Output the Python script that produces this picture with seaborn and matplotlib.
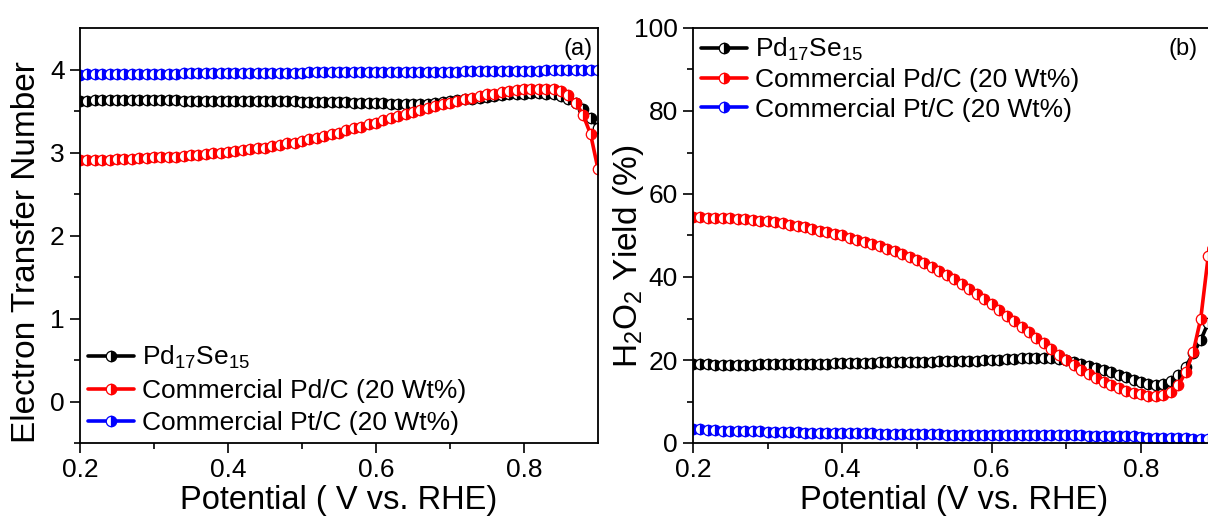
import numpy as np
import matplotlib
matplotlib.use('Agg')
import matplotlib.pyplot as plt
import seaborn as sns

# Potential grid (V vs. RHE)
potential = [0.20, 0.21, 0.22, 0.23, 0.24, 0.25, 0.26, 0.27, 0.28, 0.29,
             0.30, 0.31, 0.32, 0.33, 0.34, 0.35, 0.36, 0.37, 0.38, 0.39,
             0.40, 0.41, 0.42, 0.43, 0.44, 0.45, 0.46, 0.47, 0.48, 0.49,
             0.50, 0.51, 0.52, 0.53, 0.54, 0.55, 0.56, 0.57, 0.58, 0.59,
             0.60, 0.61, 0.62, 0.63, 0.64, 0.65, 0.66, 0.67, 0.68, 0.69,
             0.70, 0.71, 0.72, 0.73, 0.74, 0.75, 0.76, 0.77, 0.78, 0.79,
             0.80, 0.81, 0.82, 0.83, 0.84, 0.85, 0.86, 0.87, 0.88, 0.89,
             0.90]

# (a) electron transfer number
n_pdse = [3.62, 3.62, 3.63, 3.63, 3.63, 3.63, 3.63, 3.63, 3.63, 3.63,
          3.63, 3.63, 3.63, 3.63, 3.62, 3.62, 3.62, 3.62, 3.62, 3.62,
          3.62, 3.62, 3.62, 3.62, 3.62, 3.62, 3.62, 3.62, 3.62, 3.62,
          3.61, 3.61, 3.61, 3.61, 3.61, 3.61, 3.61, 3.60, 3.60, 3.60,
          3.60, 3.60, 3.59, 3.59, 3.59, 3.59, 3.59, 3.59, 3.60, 3.61,
          3.62, 3.63, 3.64, 3.65, 3.66, 3.67, 3.68, 3.69, 3.70, 3.71,
          3.71, 3.72, 3.72, 3.71, 3.70, 3.68, 3.65, 3.60, 3.52, 3.42,
          3.30]
n_pdc = [2.91, 2.91, 2.91, 2.91, 2.91, 2.92, 2.92, 2.92, 2.93, 2.93,
         2.94, 2.94, 2.95, 2.95, 2.96, 2.97, 2.97, 2.98, 2.99, 3.00,
         3.01, 3.02, 3.03, 3.04, 3.05, 3.06, 3.08, 3.09, 3.11, 3.12,
         3.14, 3.16, 3.18, 3.20, 3.22, 3.24, 3.27, 3.29, 3.31, 3.34,
         3.36, 3.39, 3.41, 3.44, 3.46, 3.49, 3.51, 3.54, 3.56, 3.58,
         3.60, 3.62, 3.64, 3.66, 3.68, 3.70, 3.71, 3.73, 3.74, 3.75,
         3.76, 3.77, 3.77, 3.77, 3.76, 3.74, 3.69, 3.60, 3.45, 3.22,
         2.80]
n_ptc = [3.93, 3.94, 3.94, 3.94, 3.94, 3.95, 3.95, 3.95, 3.95, 3.95,
         3.95, 3.95, 3.95, 3.95, 3.96, 3.96, 3.96, 3.96, 3.96, 3.96,
         3.96, 3.96, 3.96, 3.96, 3.96, 3.96, 3.96, 3.96, 3.96, 3.96,
         3.96, 3.97, 3.97, 3.97, 3.97, 3.97, 3.97, 3.97, 3.97, 3.97,
         3.97, 3.97, 3.97, 3.97, 3.97, 3.97, 3.97, 3.97, 3.97, 3.97,
         3.97, 3.97, 3.98, 3.98, 3.98, 3.98, 3.98, 3.98, 3.98, 3.98,
         3.98, 3.98, 3.98, 3.99, 3.99, 3.99, 3.99, 3.99, 3.99, 3.99,
         3.99]

# (b) H2O2 yield (%)
y_pdse = [19.0, 19.0, 19.0, 18.9, 18.9, 18.9, 18.9, 18.9, 18.9, 19.0,
          19.0, 19.0, 19.0, 19.0, 19.0, 19.0, 19.1, 19.1, 19.1, 19.2,
          19.2, 19.2, 19.3, 19.3, 19.3, 19.4, 19.4, 19.4, 19.5, 19.5,
          19.6, 19.6, 19.6, 19.7, 19.7, 19.7, 19.8, 19.8, 19.8, 19.9,
          20.0, 20.1, 20.2, 20.3, 20.4, 20.5, 20.6, 20.6, 20.5, 20.3,
          20.0, 19.5, 19.0, 18.5, 18.0, 17.5, 17.0, 16.4, 15.8, 15.2,
          14.6, 14.2, 14.0, 14.2, 15.0, 16.4, 18.4, 21.6, 24.8, 29.0,
          35.0]
y_pdc = [54.4, 54.4, 54.3, 54.3, 54.2, 54.1, 54.0, 53.9, 53.8, 53.6,
         53.4, 53.2, 52.9, 52.6, 52.3, 52.0, 51.6, 51.2, 50.8, 50.4,
         50.0, 49.5, 49.0, 48.5, 48.0, 47.4, 46.8, 46.2, 45.6, 44.9,
         44.2, 43.4, 42.5, 41.5, 40.5, 39.4, 38.3, 37.1, 35.9, 34.7,
         33.4, 32.1, 30.7, 29.4, 28.0, 26.7, 25.3, 24.0, 22.6, 21.3,
         20.0, 18.8, 17.6, 16.6, 15.6, 14.7, 13.9, 13.2, 12.6, 12.1,
         11.7, 11.4, 11.3, 11.5, 12.2, 14.0, 17.0, 22.0, 30.0, 45.0,
         65.0]
y_ptc = [3.4, 3.3, 3.2, 3.1, 3.0, 3.0, 2.9, 2.9, 2.8, 2.8,
         2.7, 2.7, 2.6, 2.6, 2.6, 2.5, 2.5, 2.5, 2.4, 2.4,
         2.4, 2.3, 2.3, 2.3, 2.3, 2.2, 2.2, 2.2, 2.2, 2.1,
         2.1, 2.1, 2.1, 2.1, 2.0, 2.0, 2.0, 2.0, 2.0, 2.0,
         2.0, 2.0, 1.9, 1.9, 1.9, 1.9, 1.9, 1.9, 1.9, 1.9,
         1.9, 1.9, 1.9, 1.8, 1.8, 1.8, 1.8, 1.8, 1.8, 1.6,
         1.4, 1.3, 1.2, 1.2, 1.1, 1.1, 1.1, 1.0, 1.0, 1.0,
         1.0]

labels = ['Pd$_{17}$Se$_{15}$', 'Commercial Pd/C (20 Wt%)', 'Commercial Pt/C (20 Wt%)']
colors = ['black', '#ff0000', '#0000ff']

sns.set_style('ticks')
plt.rcParams['font.family'] = ['Liberation Sans', 'DejaVu Sans']
plt.rcParams['mathtext.fontset'] = 'custom'
plt.rcParams['mathtext.rm'] = 'Liberation Sans'
plt.rcParams['mathtext.it'] = 'Liberation Sans'
plt.rcParams['text.color'] = 'black'
plt.rcParams['axes.labelcolor'] = 'black'
plt.rcParams['xtick.color'] = 'black'
plt.rcParams['ytick.color'] = 'black'

fig = plt.figure(figsize=(12.08, 5.16), dpi=100)
ax1 = fig.add_axes([80 / 1208, 1 - 443 / 516, 518 / 1208, 415 / 516])
ax2 = fig.add_axes([693 / 1208, 1 - 443 / 516, 522.7 / 1208, 415 / 516])


def draw(ax, series):
    for vals, lab, col in zip(series, labels, colors):
        sns.lineplot(x=potential, y=vals, ax=ax, color=col, label=lab,
                     linewidth=2.6, marker='o', markersize=7.5,
                     fillstyle='right', markerfacecolor=col,
                     markerfacecoloralt='white', markeredgecolor=col,
                     markeredgewidth=0.9, sort=False)


draw(ax1, [n_pdse, n_pdc, n_ptc])
draw(ax2, [y_pdse, y_pdc, y_ptc])

for ax in (ax1, ax2):
    ax.set_xlim(0.2, 0.9)
    ax.set_xticks([0.2, 0.4, 0.6, 0.8])
    ax.set_xticks([0.3, 0.5, 0.7], minor=True)
    ax.tick_params(axis='both', which='major', direction='out', length=7,
                   width=1.2, labelsize=19, pad=4, colors='black')
    ax.tick_params(axis='both', which='minor', direction='out', length=4,
                   width=1.2, colors='black')
    for sp in ax.spines.values():
        sp.set_visible(True)
        sp.set_linewidth(1.3)
        sp.set_color('black')

ax1.set_ylim(-0.5, 4.5)
ax1.set_yticks([0, 1, 2, 3, 4])
ax1.set_yticks([-0.5, 0.5, 1.5, 2.5, 3.5], minor=True)
ax1.set_xlabel('Potential ( V vs. RHE)', fontsize=23.5, labelpad=2)
ax1.set_ylabel('Electron Transfer Number', fontsize=24)
ax1.yaxis.set_label_coords(-0.073, 0.46)
ax1.text(0.99, 0.975, '(a)', transform=ax1.transAxes, ha='right', va='top',
         fontsize=17)
ax1.legend(loc='lower left', frameon=False, fontsize=19, handlelength=1.75,
           handletextpad=0.3, labelspacing=0.3, borderaxespad=0.1,
           borderpad=0.2)

ax2.set_ylim(0, 100)
ax2.set_yticks([0, 20, 40, 60, 80, 100])
ax2.set_yticks([10, 30, 50, 70, 90], minor=True)
ax2.set_xlabel('Potential (V vs. RHE)', fontsize=23.5, labelpad=2)
ax2.set_ylabel('H$_2$O$_2$ Yield (%)', fontsize=24)
ax2.yaxis.set_label_coords(-0.09, 0.45)
ax2.text(0.965, 0.975, '(b)', transform=ax2.transAxes, ha='right', va='top',
         fontsize=17)
ax2.legend(loc='upper left', frameon=False, fontsize=19, handlelength=1.75,
           handletextpad=0.3, labelspacing=0.2, borderaxespad=0.1,
           borderpad=0.2)

fig.savefig('out.png', dpi=100)
